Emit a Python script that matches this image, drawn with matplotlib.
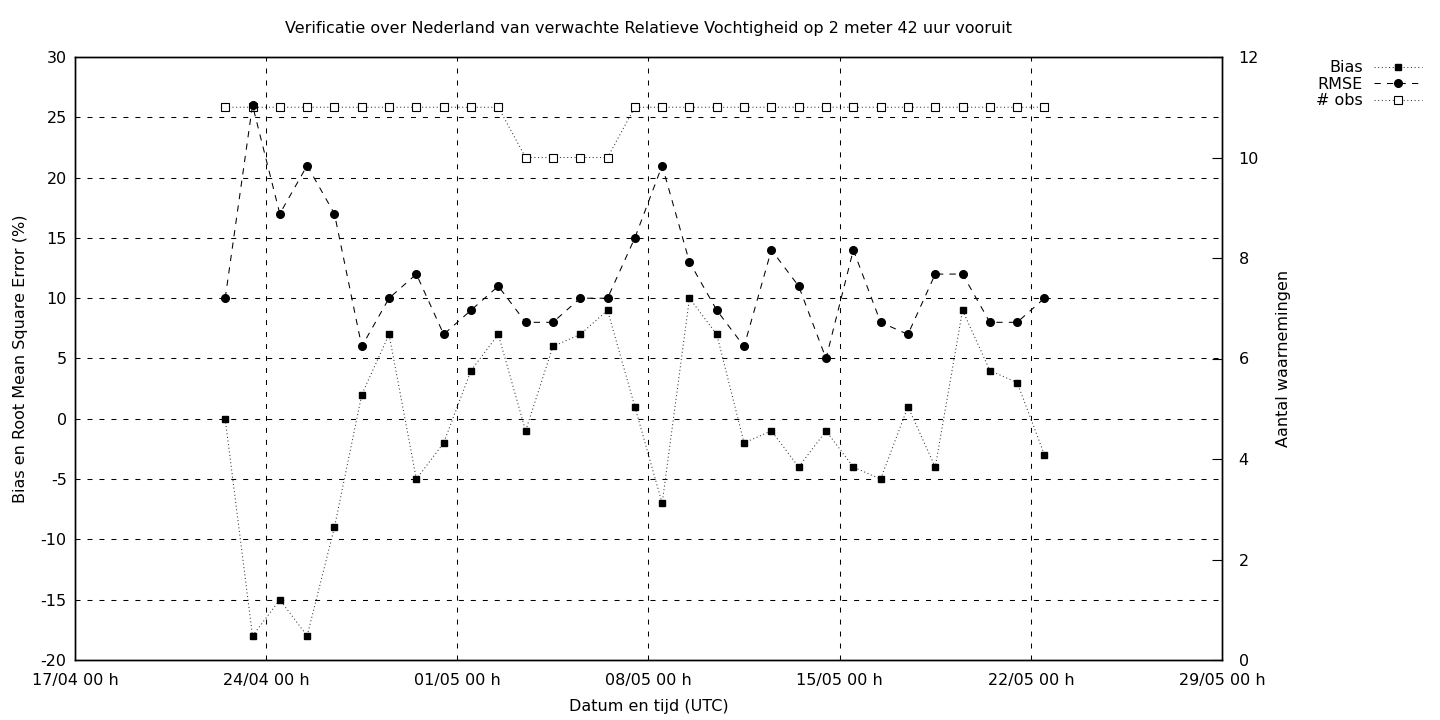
"""Verificatie relatieve vochtigheid op 2 meter, 42 uur vooruit (gnuplot-stijl)."""

from datetime import datetime, timedelta

import matplotlib

matplotlib.use("Agg")
import matplotlib.dates as mdates
import matplotlib.pyplot as plt

START = datetime(2024, 4, 22, 12)
N_DAYS = 31

BIAS = [0, -18, -15, -18, -9, 2, 7, -5, -2, 4, 7, -1, 6, 7, 9, 1,
        -7, 10, 7, -2, -1, -4, -1, -4, -5, 1, -4, 9, 4, 3, -3]
RMSE = [10, 26, 17, 21, 17, 6, 10, 12, 7, 9, 11, 8, 8, 10, 10, 15,
        21, 13, 9, 6, 14, 11, 5, 14, 8, 7, 12, 12, 8, 8, 10]
N_OBS = [11, 11, 11, 11, 11, 11, 11, 11, 11, 11, 11, 10, 10, 10, 10, 11,
         11, 11, 11, 11, 11, 11, 11, 11, 11, 11, 11, 11, 11, 11, 11]

DATES = [START + timedelta(days=i) for i in range(N_DAYS)]
X_TICKS = [datetime(2024, 4, 17) + timedelta(days=7 * i) for i in range(7)]

plt.rcParams["font.family"] = "DejaVu Sans"
plt.rcParams["font.size"] = 11.5
plt.rcParams["axes.unicode_minus"] = False

GRID_STYLE = (0, (4.8, 6.7))
DOTTED = (0, (1, 2.5))
DASHED = (0, (6, 6))

fig = plt.figure(figsize=(14.4, 7.2), dpi=100)
ax = fig.add_axes([75 / 1440, 60 / 720, 1147 / 1440, 603 / 720])
ax2 = ax.twinx()
# bias/RMSE above the obs line, as in the gnuplot original
ax.set_zorder(ax2.get_zorder() + 1)
ax.patch.set_visible(False)

ax.set_xlim(X_TICKS[0], X_TICKS[-1])
ax.set_ylim(-20, 30)
ax.set_yticks(range(-20, 31, 5))
ax.set_xticks(X_TICKS)
ax.xaxis.set_major_formatter(mdates.DateFormatter("%d/%m %H h"))
ax.tick_params(axis="y", direction="in", length=0, pad=6)
ax.tick_params(axis="x", direction="in", length=0, pad=9)

ax2.set_ylim(0, 12)
ax2.set_yticks(range(0, 13, 2))
ax2.tick_params(axis="y", direction="in", length=7, width=0.8, pad=12)

for y in range(-15, 30, 5):
    ax.axhline(y, color="black", linewidth=0.75, linestyle=GRID_STYLE, zorder=0)
for x in X_TICKS[1:-1]:
    ax.axvline(x, color="black", linewidth=0.75, linestyle=GRID_STYLE, zorder=0)

(l1,) = ax.plot(DATES, BIAS, color="#333333", linewidth=0.75, linestyle=DOTTED,
                marker="s", markersize=5, markerfacecolor="black",
                markeredgecolor="black", label="Bias")
(l2,) = ax.plot(DATES, RMSE, color="black", linewidth=0.75, linestyle=DASHED,
                marker="o", markersize=5.5, label="RMSE")
(l3,) = ax2.plot(DATES, N_OBS, color="#333333", linewidth=0.75, linestyle=DOTTED,
                 marker="s", markersize=5.5, markerfacecolor="white",
                 markeredgecolor="black", markeredgewidth=0.8, label="# obs")

for a in (ax, ax2):
    for side in a.spines.values():
        side.set_linewidth(1.0)

ax.set_xlabel("Datum en tijd (UTC)", labelpad=8)
ax.set_ylabel("Bias en Root Mean Square Error (%)", labelpad=9)
ax2.set_ylabel("Aantal waarnemingen", labelpad=12)
ax.set_title("Verificatie over Nederland van verwachte Relatieve Vochtigheid op 2 meter 42 uur vooruit",
             fontsize=11.5, pad=17)

fig.legend(handles=[l1, l2, l3], loc="upper right", bbox_to_anchor=(0.995, 0.932),
           frameon=False, markerfirst=False, handlelength=3.0, handletextpad=0.7,
           labelspacing=0.1, borderpad=0.2)

fig.savefig("out.png", dpi=100)
